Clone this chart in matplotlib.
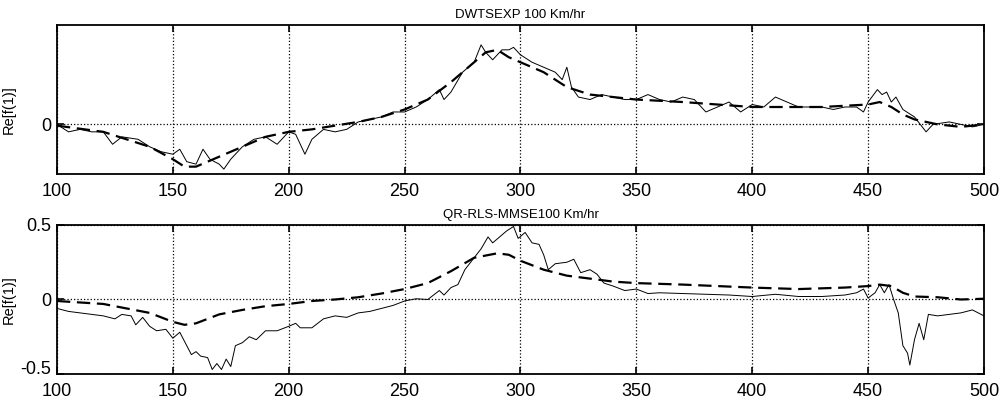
import numpy as np
import matplotlib
matplotlib.use("Agg")
import matplotlib.pyplot as plt

plt.rcParams['font.family'] = ['Liberation Sans', 'DejaVu Sans']

# DWTSEXP panel
top_dash_x = [100, 120, 140, 150, 155, 160, 170, 180, 190, 200, 210, 220, 230, 240, 250,
              260, 270, 280, 285, 290, 295, 300, 310, 320, 330, 340, 350, 370, 400, 430,
              450, 455, 460, 465, 470, 480, 490, 500]
top_dash_y = [-0.005, -0.03, -0.09, -0.14, -0.17, -0.17, -0.13, -0.09, -0.05, -0.03, -0.02,
              -0.005, 0.01, 0.03, 0.06, 0.10, 0.17, 0.25, 0.29, 0.30, 0.27, 0.25, 0.21, 0.15,
              0.12, 0.11, 0.10, 0.09, 0.07, 0.07, 0.08, 0.09, 0.07, 0.04, 0.02, 0.0, -0.01, 0.0]

top_sol_x = [100, 105, 110, 115, 120, 124, 128, 135, 140, 145, 150, 153, 156, 160, 163, 166,
             170, 172, 175, 180, 185, 190, 195, 200, 203, 207, 210, 215, 220, 225, 230, 240,
             245, 250, 255, 260, 265, 267, 270, 275, 280, 283, 285, 288, 292, 295, 297, 300,
             305, 310, 315, 318, 320, 322, 325, 330, 335, 340, 345, 350, 355, 360, 365, 370,
             375, 380, 385, 390, 395, 400, 405, 410, 415, 420, 425, 430, 435, 440, 445, 448,
             450, 454, 456, 458, 460, 462, 465, 470, 475, 478, 485, 490, 495, 500]
top_sol_y = [0.0, -0.03, -0.02, -0.03, -0.03, -0.08, -0.05, -0.06, -0.09, -0.11, -0.12, -0.10,
             -0.15, -0.16, -0.10, -0.14, -0.16, -0.18, -0.14, -0.09, -0.06, -0.05, -0.08, -0.03,
             -0.04, -0.12, -0.06, -0.02, -0.03, -0.02, 0.01, 0.03, 0.05, 0.05, 0.07, 0.10, 0.14,
             0.10, 0.13, 0.21, 0.25, 0.32, 0.29, 0.26, 0.30, 0.30, 0.31, 0.28, 0.25, 0.23, 0.21,
             0.18, 0.23, 0.15, 0.11, 0.10, 0.12, 0.11, 0.10, 0.10, 0.12, 0.10, 0.09, 0.11, 0.10,
             0.05, 0.07, 0.09, 0.05, 0.08, 0.07, 0.11, 0.09, 0.07, 0.07, 0.07, 0.06, 0.07, 0.07,
             0.05, 0.09, 0.14, 0.12, 0.13, 0.09, 0.11, 0.06, 0.03, -0.03, 0.0, 0.01, 0.0, -0.01, 0.0]

# QR-RLS-MMSE panel
bot_dash_x = [100, 110, 120, 130, 140, 150, 155, 160, 170, 180, 190, 200, 210, 220, 230, 240,
              250, 260, 270, 280, 290, 295, 300, 310, 320, 330, 340, 350, 370, 400, 420, 440,
              450, 455, 460, 465, 470, 480, 490, 500]
bot_dash_y = [-0.01, -0.02, -0.03, -0.06, -0.09, -0.15, -0.17, -0.16, -0.10, -0.07, -0.045,
              -0.03, -0.01, 0.0, 0.015, 0.04, 0.07, 0.11, 0.19, 0.28, 0.31, 0.30, 0.26, 0.20,
              0.16, 0.14, 0.12, 0.11, 0.10, 0.08, 0.07, 0.08, 0.09, 0.10, 0.09, 0.045, 0.02,
              0.015, 0.0, 0.005]

bot_sol_x = [100, 105, 110, 115, 120, 125, 128, 132, 134, 137, 140, 143, 147, 150, 153, 156,
             158, 160, 162, 165, 167, 169, 171, 173, 175, 177, 180, 183, 186, 190, 195, 200,
             203, 205, 210, 215, 220, 225, 230, 235, 240, 245, 250, 255, 260, 265, 267, 270,
             273, 276, 280, 283, 286, 288, 291, 294, 297, 299, 302, 305, 308, 310, 312, 315,
             320, 323, 326, 330, 333, 336, 340, 345, 350, 355, 360, 370, 380, 390, 400, 410,
             420, 430, 440, 445, 448, 450, 453, 455, 457, 459, 461, 463, 465, 467, 468, 470,
             472, 474, 476, 480, 485, 490, 495, 500]
bot_sol_y = [-0.06, -0.08, -0.09, -0.10, -0.11, -0.13, -0.10, -0.11, -0.17, -0.12, -0.18,
             -0.21, -0.20, -0.26, -0.22, -0.31, -0.37, -0.35, -0.38, -0.39, -0.47, -0.43,
             -0.47, -0.40, -0.45, -0.31, -0.29, -0.25, -0.27, -0.21, -0.21, -0.18, -0.16,
             -0.19, -0.19, -0.13, -0.11, -0.12, -0.09, -0.08, -0.06, -0.04, -0.01, 0.005,
             0.0, 0.06, 0.03, 0.08, 0.10, 0.20, 0.28, 0.34, 0.42, 0.38, 0.42, 0.46, 0.49,
             0.41, 0.45, 0.38, 0.37, 0.30, 0.20, 0.24, 0.25, 0.27, 0.18, 0.20, 0.17, 0.11,
             0.09, 0.06, 0.07, 0.04, 0.045, 0.04, 0.035, 0.03, 0.02, 0.035, 0.02, 0.02, 0.03,
             0.045, 0.07, 0.01, 0.045, 0.10, 0.045, 0.10, 0.0, -0.09, -0.31, -0.36, -0.44,
             -0.27, -0.16, -0.27, -0.10, -0.11, -0.10, -0.09, -0.07, -0.11]

xticks = [100, 150, 200, 250, 300, 350, 400, 450, 500]

fig = plt.figure(figsize=(10.08, 4.03), dpi=100)
ax1 = fig.add_axes([0.0565, 0.568, 0.9197, 0.370])
ax2 = fig.add_axes([0.0565, 0.072, 0.9197, 0.3697])


def style(ax, title, ylim, yticks, yticklabels, label_y):
    ax.set_xlim(100, 500)
    ax.set_ylim(*ylim)
    ax.set_xticks(xticks)
    ax.set_yticks(yticks)
    ax.set_yticklabels(yticklabels)
    ax.tick_params(direction='in', top=True, right=True, labelsize=13, length=5, width=1.2)
    ax.tick_params(axis='x', pad=6.5)
    ax.tick_params(axis='y', pad=4)
    ax.grid(True, linestyle=':', color='black', linewidth=0.9)
    for s in ax.spines.values():
        s.set_linewidth(1.3)
    ax.set_title(title, fontsize=9.5, pad=5)
    ax.set_ylabel('Re[f(1)]', fontsize=10.5)
    ax.yaxis.set_label_coords(-0.044, label_y)


ax1.plot(top_sol_x, top_sol_y, color='black', linewidth=0.7)
ax1.plot(top_dash_x, top_dash_y, color='black', linewidth=1.6, dashes=(6, 3))
style(ax1, 'DWTSEXP 100 Km/hr', (-0.2, 0.4), [0], ['0'], 0.43)

ax2.plot(bot_sol_x, bot_sol_y, color='black', linewidth=0.7)
ax2.plot(bot_dash_x, bot_dash_y, color='black', linewidth=1.6, dashes=(6, 3))
style(ax2, 'QR-RLS-MMSE100 Km/hr', (-0.5, 0.5), [-0.5, 0, 0.5], ['-0.5', '0', '0.5'], 0.5)
# MATLAB draws the lowest label sitting on the axis line
ax2.get_yticklabels()[0].set_verticalalignment('baseline')

fig.savefig('out.png', dpi=100)
